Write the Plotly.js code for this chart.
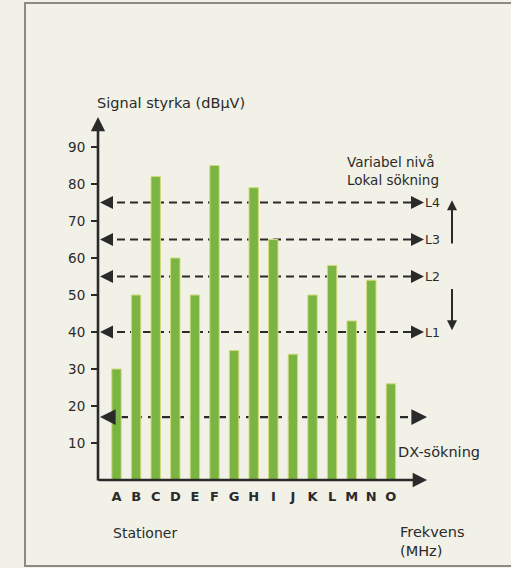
<!DOCTYPE html>
<html><head><meta charset="utf-8">
<script src="https://cdn.plot.ly/plotly-3.0.1.min.js"></script>
<style>html,body{margin:0;padding:0;background:#f2f1e7;overflow:hidden;}</style>
</head><body>
<div id="chart" style="width:511px;height:568px;"></div>
<script>
// Data
const stations = ["A","B","C","D","E","F","G","H","I","J","K","L","M","N","O"];
const signal = [30, 50, 82, 60, 50, 85, 35, 79, 65, 34, 50, 58, 43, 54, 26];
const levelValues = [75, 65, 55, 40];
const levelLabels = ["L4", "L3", "L2", "L1"];
const dxLevel = 17;
const yTicks = [10, 20, 30, 40, 50, 60, 70, 80, 90];

const ink = "#2a2a2a";
const FONT = "'DejaVu Sans', sans-serif";
const xIdx = stations.map((s, i) => i);

// layout geometry helpers (plot area: 98..427 px horizontally, 117..480 px vertically)
const L = 98, R = 427, T = 117, B = 480;
const W = R - L, H = B - T;
const px = v => (v - L) / W;     // pixel -> paper x
const py = v => (B - v) / H;     // pixel -> paper y

const shapes = [];
const annotations = [];

// frame (left, top, bottom edges only)
shapes.push({type: "path", xref: "paper", yref: "paper",
  path: `M ${px(511)} ${py(3)} L ${px(25)} ${py(3)} L ${px(25)} ${py(566)} L ${px(511)} ${py(566)}`,
  line: {color: "#8a8a86", width: 2}, layer: "below"});

// axes with arrowheads
annotations.push({xref: "paper", yref: "paper", x: 0, y: 1, axref: "pixel", ayref: "pixel",
  ax: 0, ay: H + 2, text: "", showarrow: true, arrowhead: 2, arrowsize: 1.1, arrowwidth: 2.6, arrowcolor: ink});
annotations.push({xref: "paper", yref: "paper", x: 1, y: 0, axref: "pixel", ayref: "pixel",
  ax: -W - 1, ay: 0, text: "", showarrow: true, arrowhead: 2, arrowsize: 1.1, arrowwidth: 2.6, arrowcolor: ink});

// local levels
levelValues.forEach((lv, i) => {
  shapes.push({type: "line", xref: "paper", yref: "y", x0: px(104), x1: px(414), y0: lv, y1: lv,
    line: {color: ink, width: 2, dash: "8px,5px"}, layer: "below"});
  annotations.push({xref: "paper", yref: "y", x: px(100), y: lv, axref: "pixel", ayref: "pixel",
    ax: 10, ay: 0, text: "", showarrow: true, arrowhead: 2, arrowsize: 1.3, arrowwidth: 2, arrowcolor: ink});
  annotations.push({xref: "paper", yref: "y", x: px(424), y: lv, axref: "pixel", ayref: "pixel",
    ax: -10, ay: 0, text: "", showarrow: true, arrowhead: 2, arrowsize: 1.3, arrowwidth: 2, arrowcolor: ink});
  annotations.push({xref: "paper", yref: "y", x: px(423), y: lv, xanchor: "left", yanchor: "middle",
    text: levelLabels[i], showarrow: false, font: {family: FONT, size: 12.5, color: ink}});
});

// DX level
shapes.push({type: "line", xref: "paper", yref: "y", x0: px(106), x1: px(416), y0: dxLevel, y1: dxLevel,
  line: {color: ink, width: 2.4, dash: "8px,6px"}, layer: "below"});
annotations.push({xref: "paper", yref: "y", x: px(100), y: dxLevel, axref: "pixel", ayref: "pixel",
  ax: 12, ay: 0, text: "", showarrow: true, arrowhead: 2, arrowsize: 1.25, arrowwidth: 2.5, arrowcolor: ink});
annotations.push({xref: "paper", yref: "y", x: px(427), y: dxLevel, axref: "pixel", ayref: "pixel",
  ax: -14, ay: 0, text: "", showarrow: true, arrowhead: 2, arrowsize: 1.25, arrowwidth: 2.5, arrowcolor: ink});

// variable level arrows
annotations.push({xref: "paper", yref: "y", x: px(452), y: levelValues[0] + 0.6, axref: "pixel", ayref: "y",
  ax: 0, ay: levelValues[1] - 1.5, text: "", showarrow: true, arrowhead: 2, arrowsize: 1, arrowwidth: 2, arrowcolor: ink});
annotations.push({xref: "paper", yref: "y", x: px(452), y: levelValues[3] + 0.5, axref: "pixel", ayref: "y",
  ax: 0, ay: levelValues[2] - 3, text: "", showarrow: true, arrowhead: 2, arrowsize: 1, arrowwidth: 2, arrowcolor: ink});

// texts
const txt = (x, y, t, size, extra) => Object.assign({xref: "paper", yref: "paper", x: px(x), y: py(y),
  xanchor: "left", yanchor: "middle", text: t, showarrow: false, align: "left",
  font: {family: FONT, size: size, color: ink}}, extra || {});
annotations.push(txt(95, 103, "Signal styrka (dBμV)", 14.5));
annotations.push(txt(345, 171, "Variabel nivå<br>Lokal sökning", 13.5));
annotations.push(txt(396, 452, "DX-sökning", 14.5));
annotations.push(txt(111, 533, "Stationer", 14));
annotations.push(txt(398, 541, "Frekvens<br>(MHz)", 14.5));

const trace = {
  type: "bar", x: xIdx, y: signal, width: 0.48,
  marker: {color: "#7bb443", line: {color: "#cfdc7e", width: 1}},
  hoverinfo: "x+y"
};

const layout = {
  width: 511, height: 568,
  margin: {l: L, r: 511 - R, t: T, b: 568 - B, pad: 0},
  paper_bgcolor: "#f2f1e7", plot_bgcolor: "rgba(0,0,0,0)",
  showlegend: false,
  xaxis: {range: [-(116.5 - L) / 19.6, (R - 116.5) / 19.6], tickvals: xIdx, ticktext: stations,
    showgrid: false, zeroline: false, showline: false, ticks: "", ticklabelstandoff: 7,
    tickfont: {family: FONT, size: 13, color: ink, weight: "bold"}, fixedrange: true},
  yaxis: {range: [0, (B - T) / 3.7], tickvals: yTicks, showgrid: false, zeroline: false, showline: false,
    ticks: "outside", ticklen: 6, tickwidth: 2, tickcolor: ink, ticklabelstandoff: 3,
    tickfont: {family: FONT, size: 13.5, color: ink}, fixedrange: true},
  shapes: shapes, annotations: annotations
};

Plotly.newPlot("chart", [trace], layout, {displayModeBar: false, staticPlot: true});
</script>
</body></html>
